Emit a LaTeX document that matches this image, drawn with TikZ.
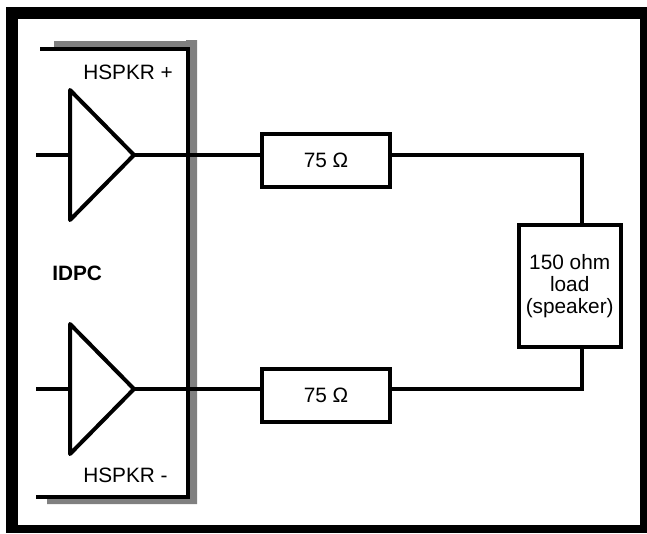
\documentclass[tikz,border=0pt]{standalone}
\usepackage{fontspec}
\setmainfont{Liberation Sans}
\usepackage{xcolor}
\definecolor{ColShade}{RGB}{128,128,128}
\usetikzlibrary{shapes.geometric}
\tikzstyle{Label}=[inner sep=0pt,font=\fontsize{15.6}{16.5}\selectfont,align=center]
\tikzstyle{Wire}=[draw=black,line width=3pt,line cap=butt,line join=miter]
\tikzstyle{Box}=[Wire,rectangle,fill=white,inner sep=0pt,outer sep=0pt,Label]
\tikzstyle{Amp}=[Wire,isosceles triangle,isosceles triangle stretches,
inner sep=0pt,outer sep=0pt,minimum width=97.5pt,minimum height=48pt,line join=round,anchor=apex]

\begin{document}
\begin{tikzpicture}[x=.75pt,y=-.75pt]
        \useasboundingbox (0,0) rectangle (647,533);
        % outer frame
        \fill[black] (6,7) rectangle (647,533);
        \fill[white] (18,19) rectangle (640,525);
        % shaded chip edge
        \fill[ColShade] (54,41) -- (186,41) -- (186,40) -- (197,40) -- (197,504)
            -- (47,504) -- (47,497) -- (189,497) -- (189,49) -- (54,49) -- cycle;
        \coordinate(chipTop)at(40,49);
        \coordinate(chipCornerTop)at(187.5,49);
        \coordinate(chipCornerBottom)at(187.5,496.5);
        \coordinate(chipBottom)at(36,496.5);
        \draw[Wire](chipTop)--(chipCornerTop)--(chipCornerBottom)--(chipBottom);
        % amplifiers
        \node[Amp](ampP)at(134,155){};
        \node[Amp](ampM)at(134,389){};
        \coordinate(inP)at(36,155);
        \coordinate(inM)at(36,389);
        \draw[Wire](inP)--(inP -| ampP.left corner);
        \draw[Wire](inM)--(inM -| ampM.left corner);
        % series resistors and load
        \node[Box,minimum width=96pt,minimum height=39.75pt](resP)at(326,160){75 Ω};
        \node[Box,minimum width=96pt,minimum height=39.75pt](resM)at(326,395){75 Ω};
        \node[Box,minimum width=76.5pt,minimum height=91.5pt](load)at(569.7,285.8){150 ohm\\load\\(speaker)};
        \coordinate(turnP)at(582,155);
        \coordinate(turnM)at(582,389);
        \draw[Wire](ampP.apex)--(resP.west |- ampP.apex);
        \draw[Wire](ampM.apex)--(resM.west |- ampM.apex);
        \draw[Wire](resP.east |- turnP)--(turnP)--(turnP |- load.north);
        \draw[Wire](resM.east |- turnM)--(turnM)--(turnM |- load.south);
        % labels
        \node[Label,anchor=base west](hspkrP)at(83,79){HSPKR +};
        \node[Label,anchor=base west](hspkrM)at(83,482){HSPKR -};
        \node[Label,anchor=base west,font=\fontsize{15.6}{16.5}\selectfont\bfseries](idpc)at(52,280){IDPC};
    \end{tikzpicture}
\end{document}
